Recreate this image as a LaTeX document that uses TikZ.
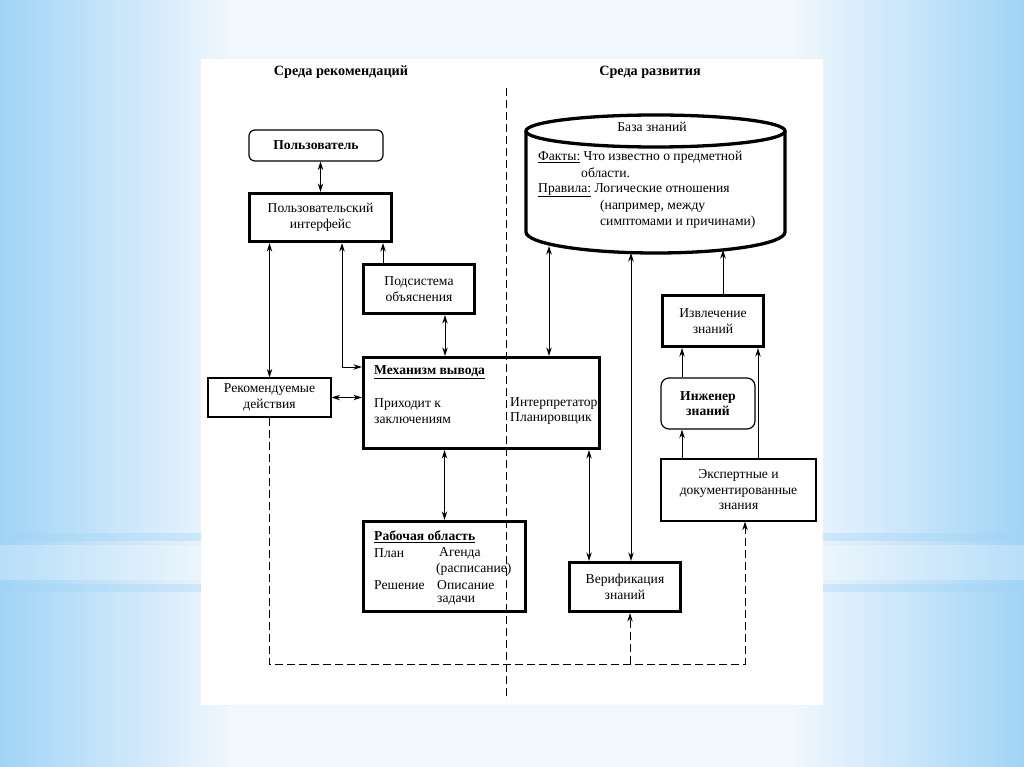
\documentclass[tikz,border=0pt]{standalone}
\usepackage{fontspec}
\setmainfont{Liberation Serif}
\usetikzlibrary{arrows.meta,calc}
\definecolor{bgb}{RGB}{160,212,246}
\definecolor{bgw}{RGB}{240,247,253}
\begin{document}
\begin{tikzpicture}[x=1pt,y=-1pt,
  every node/.style={font=\fontsize{13.6}{15.5}\selectfont, inner sep=0pt},
  >={Stealth[length=8.5pt,width=5.5pt]},
  thinbox/.style={draw, line width=1.2pt, align=center},
  thickbox/.style={draw, line width=3.3pt, align=center},
  conn/.style={line width=1pt},
  dashconn/.style={line width=1pt, dash pattern=on 8pt off 4pt},
  lbl/.style={anchor=west, align=left},
  bfnode/.style={font=\fontsize{13.6}{15.5}\selectfont\bfseries},
  ttl/.style={font=\fontsize{14.2}{16}\selectfont\bfseries}]
\useasboundingbox (0,0) rectangle (1024,767);
% background
\shade[left color=bgb, right color=bgw] (0,0) rectangle (230,767);
\fill[bgw] (229,0) rectangle (795,767);
\shade[left color=bgw, right color=bgb] (794,0) rectangle (1024,767);
\fill[bgb, opacity=0.35] (0,533) rectangle (1024,541);
\fill[white, opacity=0.25] (0,545) rectangle (1024,580);
\fill[bgb, opacity=0.35] (0,584) rectangle (1024,592);
\fill[white] (201,59) rectangle (823,705);

% titles
\node[ttl] (t1) at (341,72) {Среда рекомендаций};
\node[ttl] (t2) at (650,72) {Среда развития};

% boxes
\node[thinbox, bfnode, rounded corners=6pt, minimum width=134pt, minimum height=31pt] (user) at (316,145.5) {Пользователь};
\node[thickbox, minimum width=142pt, minimum height=48pt] (ui) at (320.5,217.5) {Пользовательский\\интерфейс};
\node[thickbox, minimum width=111pt, minimum height=49pt] (expl) at (419,289) {Подсистема\\объяснения};
\node[thickbox, minimum width=236pt, minimum height=91pt] (engine) at (481.5,403) {};
\node[thinbox, minimum width=123pt, minimum height=39pt] (rec) at (269.5,397.5) {Рекомендуемые\\действия};
\node[thickbox, minimum width=162pt, minimum height=90pt] (work) at (444.5,566.5) {};
\node[thickbox, minimum width=111pt, minimum height=49pt] (verif) at (625,587) {Верификация\\знаний};
\node[thickbox, minimum width=101pt, minimum height=51pt] (extract) at (713,321) {Извлечение\\знаний};
\node[thinbox, bfnode, rounded corners=8pt, minimum width=94pt, minimum height=51pt] (engineer) at (708,403.5) {Инженер\\знаний};
\node[thinbox, minimum width=155pt, minimum height=62pt] (expert) at (738.5,490) {Экспертные и\\документированные\\знания};

% engine texts
\node[lbl, bfnode] (eng1) at (374,372) {\underline{Механизм вывода}};
\node[lbl] (eng2) at (374,411) {Приходит к\\заключениям};
\node[lbl] (eng3) at (510,411) {Интерпретатор\\Планировщик};

% work texts
\node[lbl, bfnode] (w1) at (374,537) {\underline{Рабочая область}};
\node[lbl] (w2) at (374,553) {План};
\node[lbl] (w3) at (439,553) {Агенда};
\node[lbl] (w4) at (436,569) {(расписание)};
\node[lbl] (w5) at (374,585) {Решение};
\node[lbl] (w6) at (437,585) {Описание};
\node[lbl] (w7) at (437,601) {задачи};

% knowledge base cylinder
\draw[line width=3.3pt, fill=white] (526,131) -- (526,232) arc[start angle=180, end angle=0, x radius=129.5, y radius=21] -- (785,131);
\draw[line width=3.3pt] (655.5,131) ellipse [x radius=129.5, y radius=16];
\node (kb) at (652,127) {База знаний};
\node[lbl] (kb1) at (538,157) {\underline{Факты:} Что известно о предметной};
\node[lbl] (kb2) at (581,173) {области.};
\node[lbl] (kb3) at (538,190) {\underline{Правила:} Логические отношения};
\node[lbl] (kb4) at (600,206) {(например, между};
\node[lbl] (kb5) at (600,222) {симптомами и причинами)};
\coordinate (kbA) at (549,246);
\coordinate (kbB) at (631,253);
\coordinate (kbC) at (723,250);

% connectors
\draw[conn,<->] (user.south -| ui.north) -- (ui.north);
\draw[conn,<->] (ui.south -| rec.north) -- (rec.north);
\draw[conn,<->] ([xshift=21.5pt]ui.south) |- ([yshift=36pt]engine.west);
\draw[conn,->] ([xshift=-36pt]expl.north) -- ([xshift=-36pt]expl.north |- ui.south);
\draw[conn,<->] ([xshift=26pt]expl.south) -- ([xshift=26pt]expl.south |- engine.north);
\draw[conn,<->] (rec.east) -- (rec.east -| engine.west);
\draw[conn,<->] (work.north |- engine.south) -- (work.north);
\draw[conn,<->] (engine.north -| kbA) -- (kbA);
\draw[conn,<->] ([xshift=-36pt]verif.north |- engine.south) -- ([xshift=-36pt]verif.north);
\draw[conn,<->] ([xshift=6pt]verif.north) -- (kbB);
\draw[conn,->] ([xshift=10pt]extract.north) -- (kbC);
\draw[conn,->] ([xshift=-26pt]engineer.north) -- ([xshift=-26pt]engineer.north |- extract.south);
\draw[conn,->] ([xshift=19.5pt]expert.north) -- ([xshift=19.5pt]expert.north |- extract.south);
\draw[conn,->] ([xshift=-56.5pt]expert.north) -- ([xshift=-56.5pt]expert.north |- engineer.south);

% dashed feedback
\coordinate (dr) at (745,664);
\coordinate (dm) at (630,664);
\draw[dashconn,->] (rec.south) |- (dr) -- (dr |- expert.south);
\draw[dashconn,->] (dm) -- (dm |- verif.south);

% divider
\coordinate (divtop) at (506,88);
\coordinate (divbot) at (506,700);
\draw[dashconn] (divtop) -- (divbot);
\end{tikzpicture}
\end{document}
